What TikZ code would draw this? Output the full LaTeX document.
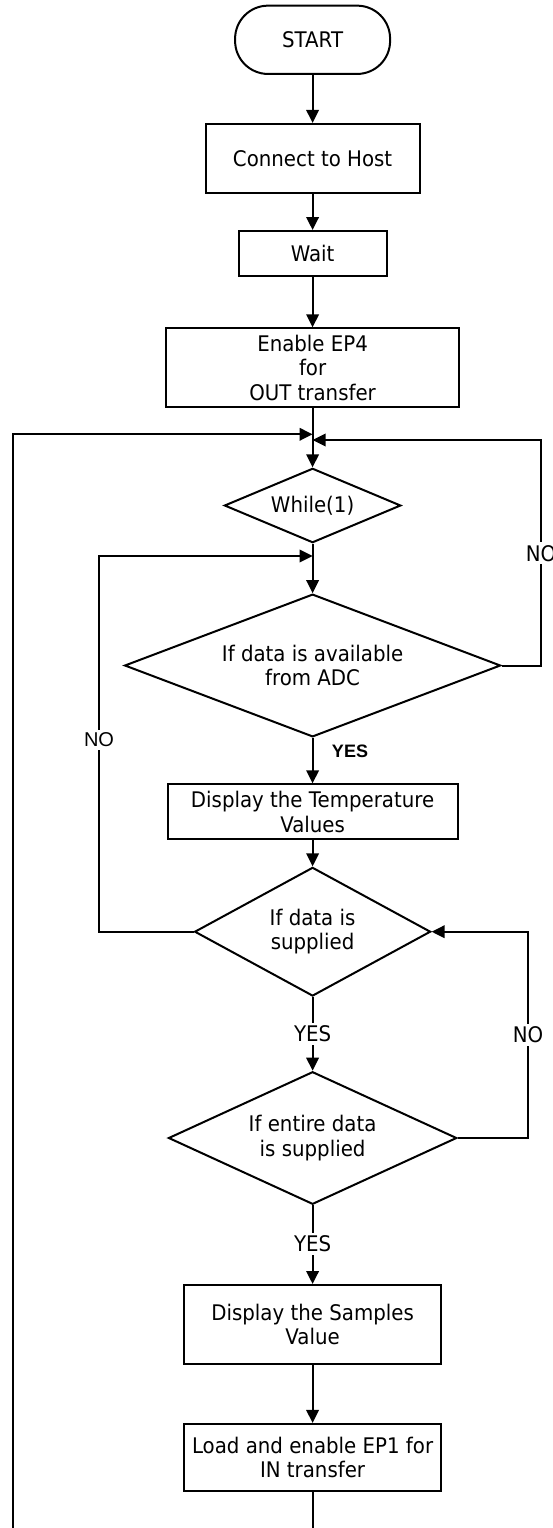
\documentclass[tikz,border=0pt]{standalone}
\usepackage{fontspec}
\setmainfont{DejaVu Sans}[FakeStretch=0.92]
\newfontfamily\arialfont{Liberation Sans}
\usetikzlibrary{shapes.geometric,arrows.meta}
\newcommand{\fs}{\fontsize{21.5pt}{24.5pt}\selectfont}
\begin{document}
\begin{tikzpicture}[x=1pt,y=-1pt,line width=2pt,
  >={Triangle[length=13pt,width=12.5pt]},
  box/.style={draw,rectangle,inner sep=0pt,align=center,font=\fs},
  dec/.style={draw,diamond,inner sep=0pt,align=center,font=\fs},
  lbl/.style={fill=white,inner sep=3pt,font=\fs},
  lbla/.style={fill=white,inner sep=3pt,font=\arialfont\fontsize{20pt}{22pt}\selectfont},
  lblb/.style={inner sep=0pt,font=\arialfont\bfseries\fontsize{18pt}{20pt}\selectfont}]
\useasboundingbox (0,0) rectangle (552,1528);
\fill[white] (0,0) rectangle (552,1528);

\node[box,rounded corners=33pt,minimum width=155pt,minimum height=68.3pt] (start) at (312.6,39.8) {START};
\node[box,minimum width=214pt,minimum height=68.7pt] (connect) at (312.6,158.3) {Connect to Host};
\node[box,minimum width=148pt,minimum height=45pt] (wait) at (312.6,253.5) {Wait};
\node[box,minimum width=293pt,minimum height=79pt] (enable) at (312.6,367.8) {Enable EP4\\for\\OUT transfer};
\node[dec,aspect=2.37,minimum width=176.4pt,minimum height=74.4pt] (while) at (312.6,505.5) {While(1)};
\node[dec,aspect=2.63,minimum width=376pt,minimum height=142.7pt] (avail) at (312.6,665.5) {If data is available\\from ADC};
\node[box,minimum width=290pt,minimum height=55pt] (temp) at (312.6,811.8) {Display the Temperature\\Values};
\node[dec,aspect=1.83,minimum width=236pt,minimum height=128.7pt] (supp) at (312.6,931.7) {If data is\\supplied};
\node[dec,aspect=2.17,minimum width=288.3pt,minimum height=132.6pt] (entire) at (312.6,1138) {If entire data\\is supplied};
\node[box,minimum width=256.3pt,minimum height=79pt] (samples) at (312.6,1324.5) {Display the Samples\\Value};
\node[box,minimum width=256.3pt,minimum height=66.7pt] (load) at (312.6,1457.3) {Load and enable EP1 for\\IN transfer};

\coordinate (j1) at (312.6,434.3);
\coordinate (j2) at (312.6,440);
\coordinate (j3) at (312.6,556);
\coordinate (lb) at (13,1528);
\coordinate (rn) at (541,440);
\coordinate (li) at (98.6,556);
\coordinate (rl) at (528,931.7);
\coordinate (eb) at (312.6,1528);

\draw[->] (start) -- (connect);
\draw[->] (connect) -- (wait);
\draw[->] (wait) -- (enable);
\draw[->] (enable) -- (while);
\draw[->] (lb) |- (j1);
\draw[->] (avail.east) -| (rn) -- (j2);
\draw[->] (while) -- (avail);
\draw[->] (supp.west) -| (li) -- (j3);
\draw[->] (avail) -- (temp);
\draw[->] (temp) -- (supp);
\draw[->] (supp) -- (entire);
\draw[->] (entire.east) -| (rl) -- (supp.east);
\draw[->] (entire) -- (samples);
\draw[->] (samples) -- (load);
\draw (load) -- (eb);

\node[lbl] (no1) at (541,553.3) {NO};
\node[lbla] (no2) at (99,740) {NO};
\node[lblb] (yes1) at (350,751.7) {YES};
\node[lbl] (yes2) at (312.6,1034) {YES};
\node[lbl] (no3) at (528,1035) {NO};
\node[lbl] (yes3) at (312.6,1244) {YES};
\end{tikzpicture}
\end{document}
